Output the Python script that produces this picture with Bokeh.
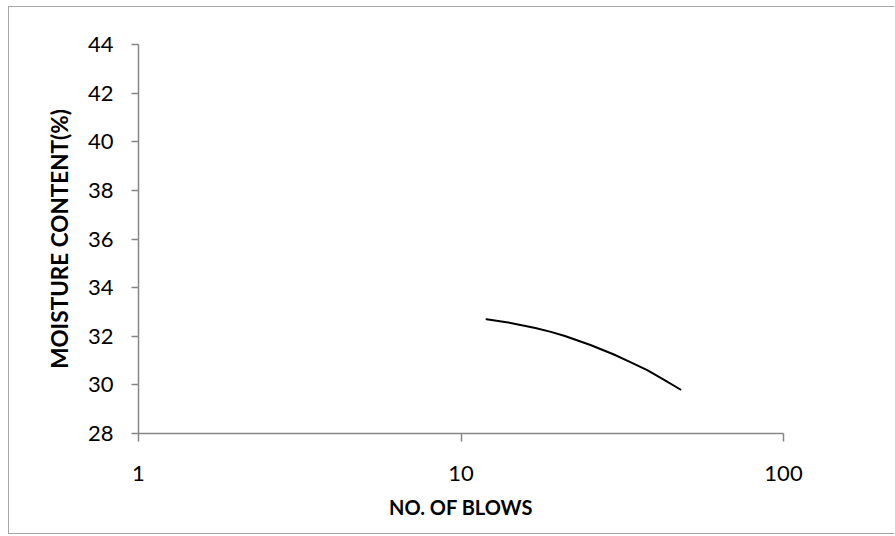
from bokeh.plotting import figure
from bokeh.models import FixedTicker, Range1d
from bokeh.embed import file_html
from bokeh.resources import INLINE

# Flow curve: number of blows vs moisture content
blows = [12, 14, 17, 19, 21, 25.2, 29.8, 33, 37.8, 42, 47.9]
moisture = [32.70, 32.57, 32.34, 32.18, 32.01, 31.64, 31.25, 30.98, 30.61, 30.26, 29.81]

x_ticks = [1, 10, 100]
y_ticks = [28, 30, 32, 34, 36, 38, 40, 42, 44]

FONT = "Lato"
AXIS_GREY = "#868686"
BORDER = "1px solid #a6a6a6"

p = figure(
    width=886, height=528,
    x_axis_type="log",
    x_range=Range1d(1, 100), y_range=Range1d(28, 44),
    output_backend="svg", toolbar_location=None,
    min_border_left=129, min_border_right=112,
    min_border_top=37, min_border_bottom=102,
)
# chart-area frame (open on the right, where it runs past the page)
p.styles = {
    "margin-left": "8px", "margin-top": "6px",
    "border-top": BORDER, "border-left": BORDER, "border-bottom": BORDER,
}
p.outline_line_color = None
p.grid.visible = False
p.background_fill_color = "white"
p.border_fill_color = "white"

p.line(blows, moisture, line_color="black", line_width=2,
       line_join="round", line_cap="round")

xa = p.xaxis[0]
xa.ticker = FixedTicker(ticks=x_ticks, minor_ticks=[])
xa.major_label_overrides = {t: str(t) for t in x_ticks}
xa.axis_label = "NO. OF BLOWS"
xa.major_tick_out = 8
xa.major_tick_in = 0
xa.major_label_standoff = 24
xa.axis_label_standoff = 11
xa.axis_label_text_font_size = "20px"

ya = p.yaxis[0]
ya.ticker = FixedTicker(ticks=y_ticks, minor_ticks=[])
ya.axis_label = "MOISTURE CONTENT(%)"
ya.major_tick_out = 7
ya.major_tick_in = 0
ya.major_label_standoff = 18
ya.axis_label_standoff = 12
ya.axis_label_text_font_size = "22.5px"

for ax in (xa, ya):
    ax.axis_line_color = AXIS_GREY
    ax.axis_line_width = 1.5
    ax.major_tick_line_color = AXIS_GREY
    ax.major_tick_line_width = 1.5
    ax.minor_tick_line_color = None
    ax.major_label_text_font = FONT
    ax.major_label_text_font_size = "22px"
    ax.major_label_text_color = "black"
    ax.axis_label_text_font = FONT
    ax.axis_label_text_font_style = "bold"
    ax.axis_label_text_color = "black"

open("out.html", "w").write(file_html(p, INLINE))
